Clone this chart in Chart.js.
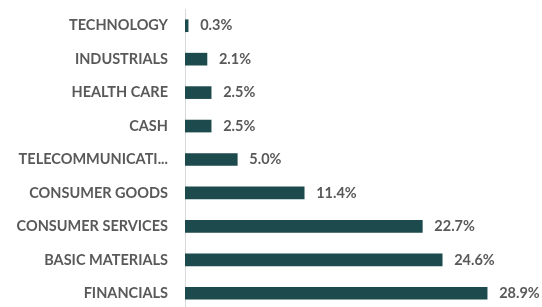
<!DOCTYPE html>
<html>
<head>
<meta charset="utf-8">
<script src="https://cdn.jsdelivr.net/npm/chart.js@4"></script>
<style>
  html, body { margin: 0; padding: 0; background: #ffffff; overflow: hidden; }
  #wrap { width: 542px; height: 310px; }
</style>
</head>
<body>
<div id="wrap"><canvas id="sectorChart"></canvas></div>
<script>
const SECTORS = [
  "TECHNOLOGY",
  "INDUSTRIALS",
  "HEALTH CARE",
  "CASH",
  "TELECOMMUNICATIONS",
  "CONSUMER GOODS",
  "CONSUMER SERVICES",
  "BASIC MATERIALS",
  "FINANCIALS"
];
const WEIGHTS = [0.3, 2.1, 2.5, 2.5, 5.0, 11.4, 22.7, 24.6, 28.9];
const X_MAX = 33;

const BAR_COLOR = "#1d4a4c";
const TEXT_COLOR = "#595959";
const AXIS_COLOR = "#d9d9d9";
const FONT = "Lato, 'Open Sans', sans-serif";
const FONT_SIZE = 14.5;

// draws the "x.x%" labels just past the end of each bar
const valueLabels = {
  id: "valueLabels",
  afterDatasetsDraw(chart) {
    const ctx = chart.ctx;
    const meta = chart.getDatasetMeta(0);
    ctx.save();
    ctx.font = "bold " + FONT_SIZE + "px " + FONT;
    ctx.fillStyle = TEXT_COLOR;
    ctx.textAlign = "left";
    ctx.textBaseline = "middle";
    meta.data.forEach((bar, i) => {
      ctx.fillText(WEIGHTS[i].toFixed(1) + "%", bar.x + 12, bar.y);
    });
    ctx.restore();
  }
};

new Chart(document.getElementById("sectorChart"), {
  type: "bar",
  data: {
    labels: SECTORS,
    datasets: [{
      data: WEIGHTS,
      backgroundColor: BAR_COLOR,
      borderWidth: 0,
      barThickness: 12
    }]
  },
  options: {
    indexAxis: "y",
    responsive: true,
    maintainAspectRatio: false,
    animation: false,
    layout: { padding: { top: 9, right: 12, bottom: 0, left: 0 } },
    plugins: {
      legend: { display: false },
      tooltip: { enabled: false }
    },
    scales: {
      x: {
        display: false,
        min: 0,
        max: X_MAX
      },
      y: {
        afterFit(scale) {
          // fixed label column; drop the label/padding overhang top and bottom
          scale.width = 185;
          scale.paddingTop = 0;
          scale.paddingBottom = 0;
        },
        grid: { display: false, drawTicks: false },
        border: { display: true, color: AXIS_COLOR, width: 1 },
        ticks: {
          padding: 17,
          color: TEXT_COLOR,
          font: { family: FONT, size: FONT_SIZE, weight: "bold" },
          callback(value) {
            const name = this.getLabelForValue(value);
            return name.length > 17 ? name.slice(0, 15) + "..." : name;
          }
        }
      }
    }
  },
  plugins: [valueLabels]
});
</script>
</body>
</html>
